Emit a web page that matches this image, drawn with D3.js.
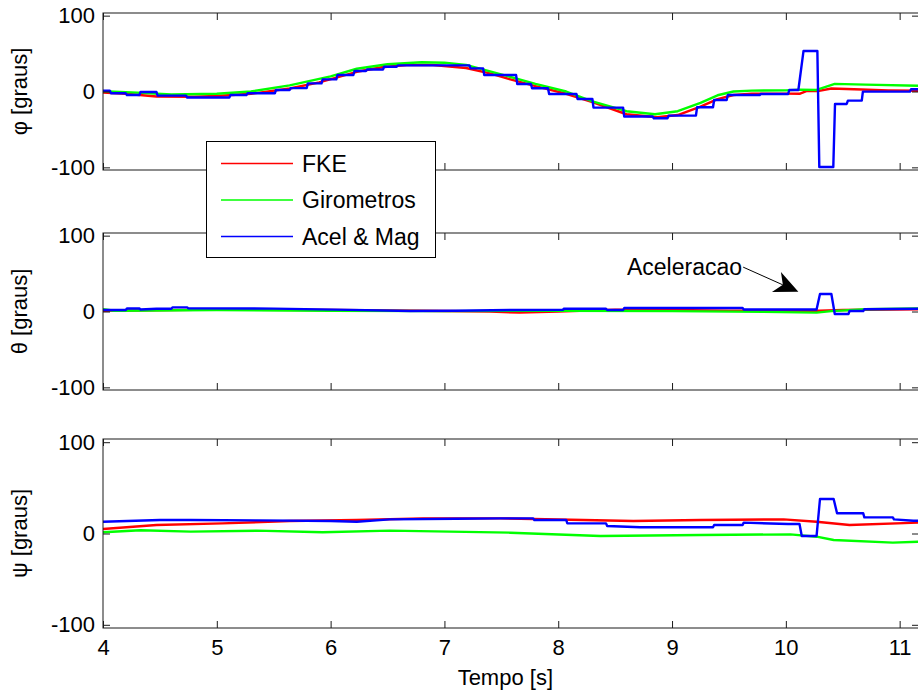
<!DOCTYPE html>
<html>
<head>
<meta charset="utf-8">
<script src="https://cdn.jsdelivr.net/npm/d3@7"></script>
<style>
  html, body { margin: 0; padding: 0; background: #fff; }
  svg { display: block; font-family: "Liberation Sans", Arial, Helvetica, sans-serif; }
</style>
</head>
<body>
<svg id="chart" width="918" height="696"></svg>
<script>
// ---------------- DATA ----------------
const xTicks = [4, 5, 6, 7, 8, 9, 10, 11];
const yTicks = [-100, 0, 100];
const seriesNames = ["FKE", "Girometros", "Acel & Mag"];
const seriesColors = ["#ff0000", "#00ff00", "#0000ff"];
const yLabels = ["\u03c6 [graus]", "\u03b8 [graus]", "\u03c8 [graus]"];
const xLabel = "Tempo [s]";
const annotationText = "Aceleracao";

// phi (roll) — FKE
const phiFkeT = [4.0, 4.2, 4.47, 4.8, 5.0, 5.3, 5.64, 5.9, 6.23, 6.45, 6.67, 6.9, 7.19, 7.4, 7.58, 7.8, 8.07, 8.3, 8.6, 8.87, 9.05, 9.25, 9.4, 9.54, 9.7, 10.0, 10.12, 10.18, 10.28, 10.4, 10.6, 10.9, 11.17];
const phiFke  = [-1.5, -3, -6.5, -7, -6, -3, 4, 12, 26, 32, 35, 35, 31, 24, 16, 7, -3, -14, -30, -34, -31, -20, -10, -4.6, -2.8, -2.8, -3, 0.6, 0.5, 4, 3, 1.5, 1];
// phi — Girometros
const phiGirT = [4.0, 4.3, 4.6, 5.0, 5.3, 5.64, 6.0, 6.23, 6.5, 6.8, 7.0, 7.19, 7.49, 7.8, 8.07, 8.3, 8.6, 8.85, 9.05, 9.25, 9.4, 9.54, 9.7, 10.0, 10.12, 10.27, 10.43, 10.7, 11.17];
const phiGir  = [0.5, -1.5, -4, -3, 0, 8, 20, 30, 36, 38.5, 38, 35, 23, 10, 0, -13, -26, -30, -26, -15, -5, 0, 1.2, 1.5, 2.5, 2, 10, 9, 7.5];
// phi — Acel & Mag (stepped)
const phiAcmT = [4.0, 4.06, 4.07, 4.2, 4.21, 4.32, 4.33, 4.47, 4.48, 4.73, 4.74, 5.11, 5.12, 5.26, 5.27, 5.51, 5.52, 5.64, 5.65, 5.79, 5.80, 5.92, 5.93, 6.05, 6.06, 6.20, 6.21, 6.31, 6.32, 6.46, 6.47, 6.58, 6.59, 7.22, 7.23, 7.34, 7.35, 7.63, 7.64, 7.76, 7.77, 7.91, 7.92, 8.16, 8.17, 8.30, 8.31, 8.57, 8.58, 8.83, 8.84, 8.96, 8.97, 9.21, 9.22, 9.36, 9.37, 9.48, 9.49, 9.77, 9.78, 10.02, 10.03, 10.11, 10.155, 10.277, 10.294, 10.417, 10.432, 10.535, 10.545, 10.667, 10.677, 11.09, 11.10, 11.17];
const phiAcm  = [1, 1, -2.4, -2.4, -4.6, -4.6, -0.7, -0.7, -5.5, -5.5, -8, -8, -4.6, -4.6, -2.4, -2.4, 2, 2, 4.5, 4.5, 10.7, 10.7, 16, 16, 21.7, 21.7, 27, 27, 29, 29, 32.6, 32.6, 34.4, 34.4, 30.5, 30.5, 21.7, 21.7, 9.9, 9.9, 4.2, 4.2, -3.3, -3.3, -9.9, -9.9, -21.3, -21.3, -33, -33, -35.3, -35.3, -31.8, -31.8, -20.8, -20.8, -11.2, -11.2, -4.6, -4.6, -3.3, -3.3, 2, 2, 53.3, 53.3, -99.5, -99.5, -16.4, -16.4, -12, -12, -0.2, -0.2, 3, 3];

// theta (pitch)
const thFkeT = [4.0, 5.0, 6.0, 6.8, 7.4, 7.66, 8.0, 8.5, 9.0, 9.5, 10.0, 10.3, 10.5, 11.17];
const thFke  = [1, 2.5, 2, 1, 0, -1.5, 0, 2.5, 2, 1, 1, 1, 2, 3];
const thGirT = [4.0, 4.1, 5.0, 6.0, 7.0, 8.0, 9.0, 9.8, 10.27, 10.4, 10.7, 11.17];
const thGir  = [3, 1, 2, 1, 0.5, 1, 0.5, -0.5, -1.5, 0.5, 3, 4];
const thAcmT = [4.0, 4.2, 4.21, 4.32, 4.33, 4.47, 4.6, 4.61, 4.74, 4.75, 5.5, 6.05, 6.7, 7.1, 7.58, 8.04, 8.05, 8.42, 8.43, 8.57, 8.58, 9.62, 9.63, 10.27, 10.30, 10.40, 10.43, 10.55, 10.56, 10.68, 10.69, 11.17];
const thAcm  = [2, 2, 4, 4, 2.6, 3.6, 3.6, 5.4, 5.4, 4.2, 3.8, 2.5, 0.7, 1, 2, 2.2, 3.7, 3.7, 2, 2, 4.6, 4.6, 2.6, 2.6, 23, 23, -3.3, -3.3, 0.7, 0.7, 2.9, 3.7];

// psi (yaw)
const psFkeT = [4.0, 4.47, 5.05, 5.64, 6.23, 6.81, 7.49, 8.66, 9.25, 9.98, 10.27, 10.56, 11.17];
const psFke  = [4.9, 9.3, 11.1, 13.7, 14.8, 16.6, 16.6, 13.7, 14.8, 15.5, 12.9, 9.3, 11.9];
const psGirT = [4.0, 4.33, 4.77, 5.35, 5.93, 6.52, 7.58, 8.37, 9.25, 10.04, 10.27, 10.42, 10.94, 11.17];
const psGir  = [1.3, 3.5, 2, 3.1, 1.3, 3.1, 0.9, -2.7, -1.6, -1, -3.5, -7.1, -10, -9];
const psAcmT = [4.0, 4.5, 4.77, 5.35, 6.0, 6.23, 6.52, 7.1, 7.49, 7.78, 7.79, 8.07, 8.08, 8.42, 8.43, 8.72, 9.36, 9.37, 9.62, 9.63, 10.02, 10.12, 10.14, 10.27, 10.30, 10.42, 10.45, 10.68, 10.69, 10.94, 10.95, 11.12, 11.17];
const psAcm  = [12.9, 14.8, 14.8, 14.4, 13.7, 12.9, 15.5, 16.2, 16.6, 16.6, 14.8, 14.8, 11.1, 11.1, 8.2, 6.8, 6.8, 9.3, 9.3, 11.9, 10.4, 10.4, -2.7, -2.7, 37.8, 37.8, 22.1, 22.1, 17.7, 17.7, 15.5, 14, 14];

const panelData = [
  [[phiFkeT, phiFke], [phiGirT, phiGir], [phiAcmT, phiAcm]],
  [[thFkeT, thFke], [thGirT, thGir], [thAcmT, thAcm]],
  [[psFkeT, psFke], [psGirT, psGir], [psAcmT, psAcm]]
];

// annotation anchor (data coords of middle panel)
const annTextPos = [9.615, 48];
const annArrowFrom = [9.625, 58.5];
const annArrowTo = [10.11, 26];

// ---------------- LAYOUT ----------------
const svg = d3.select("#chart");
const L = 103, R = 919;
const panels = [
  { top: 13, bottom: 170 },
  { top: 233, bottom: 390 },
  { top: 439, bottom: 628 }
];
const fontSize = 22;
const axisColor = "#1a1a1a";
const fmt = d => String(d); // plain hyphen-minus as in the original

const x = d3.scaleLinear().domain([4, 11.17]).range([L, R]);

const scalesY = [];
panels.forEach((p, i) => {
  const y = d3.scaleLinear().domain([-103.5, 103.5]).range([p.bottom, p.top]);
  scalesY.push(y);
  const g = svg.append("g");

  g.append("clipPath").attr("id", "clip" + i)
    .append("rect").attr("x", L).attr("y", p.top).attr("width", R - L).attr("height", p.bottom - p.top);

  // data lines
  const lines = g.append("g").attr("clip-path", `url(#clip${i})`);
  panelData[i].forEach((s, k) => {
    const pts = s[0].map((t, j) => [t, s[1][j]]);
    lines.append("path")
      .attr("d", d3.line().x(d => x(d[0])).y(d => y(d[1]))(pts))
      .attr("fill", "none")
      .attr("stroke", seriesColors[k])
      .attr("stroke-width", 2.4)
      .attr("stroke-linejoin", "round");
  });

  // axes
  const axB = g.append("g").attr("transform", `translate(0,${p.bottom})`)
    .call(d3.axisBottom(x).tickValues(xTicks).tickSize(-7).tickSizeOuter(0).tickPadding(11)
      .tickFormat(i === 2 ? fmt : () => ""));
  const axT = g.append("g").attr("transform", `translate(0,${p.top})`)
    .call(d3.axisTop(x).tickValues(xTicks).tickSize(-7).tickSizeOuter(0).tickFormat(() => ""));
  const axL = g.append("g").attr("transform", `translate(${L},0)`)
    .call(d3.axisLeft(y).tickValues(yTicks).tickSize(-7).tickSizeOuter(0).tickPadding(8).tickFormat(fmt));
  const axR = g.append("g").attr("transform", `translate(${R},0)`)
    .call(d3.axisRight(y).tickValues(yTicks).tickSize(-7).tickSizeOuter(0).tickFormat(() => ""));
  [axB, axT, axL, axR].forEach(a => {
    a.selectAll("path.domain").remove();
    a.selectAll("line").attr("stroke", axisColor);
    a.selectAll("text").attr("font-size", fontSize).attr("fill", "#000")
      .attr("font-family", "'Liberation Sans', Arial, Helvetica, sans-serif");
  });
  // box
  g.append("rect").attr("x", L).attr("y", p.top).attr("width", R - L).attr("height", p.bottom - p.top)
    .attr("fill", "none").attr("stroke", axisColor).attr("stroke-width", 1);

  // y label
  g.append("text")
    .attr("transform", `translate(27,${(p.top + p.bottom) / 2}) rotate(-90)`)
    .attr("text-anchor", "middle")
    .attr("font-size", fontSize)
    .text(yLabels[i]);
});

// x label
svg.append("text")
  .attr("x", x(7.5) + 4).attr("y", 685)
  .attr("text-anchor", "middle")
  .attr("font-size", fontSize)
  .text(xLabel);

// annotation (middle panel)
const yM = scalesY[1];
svg.append("text")
  .attr("x", x(annTextPos[0])).attr("y", yM(annTextPos[1]))
  .attr("text-anchor", "end")
  .attr("font-size", 23)
  .text(annotationText);
{
  const x0 = x(annArrowFrom[0]), y0 = yM(annArrowFrom[1]);
  const x1 = x(annArrowTo[0]), y1 = yM(annArrowTo[1]);
  const dx = x1 - x0, dy = y1 - y0, len = Math.hypot(dx, dy);
  const ux = dx / len, uy = dy / len, nx = -uy, ny = ux;
  const hl = 24, hw = 11, notch = 7;
  const bx = x1 - ux * hl, by = y1 - uy * hl;
  svg.append("line")
    .attr("x1", x0).attr("y1", y0)
    .attr("x2", x1 - ux * (hl - notch)).attr("y2", y1 - uy * (hl - notch))
    .attr("stroke", "#000").attr("stroke-width", 1);
  svg.append("path")
    .attr("d", `M${x1},${y1} L${bx + nx * hw},${by + ny * hw} L${x1 - ux * (hl - notch)},${y1 - uy * (hl - notch)} L${bx - nx * hw},${by - ny * hw} Z`)
    .attr("fill", "#000");
}

// legend
const lg = svg.append("g");
lg.append("rect").attr("x", 206.5).attr("y", 141.5).attr("width", 229).attr("height", 116)
  .attr("fill", "#fff").attr("stroke", "#000").attr("stroke-width", 1);
const legendY = [163.5, 200, 236.5];
seriesNames.forEach((n, k) => {
  lg.append("line").attr("x1", 221).attr("x2", 293).attr("y1", legendY[k]).attr("y2", legendY[k])
    .attr("stroke", seriesColors[k]).attr("stroke-width", 1.6);
  lg.append("text").attr("x", 302).attr("y", legendY[k]).attr("dy", "0.36em")
    .attr("font-size", 23).text(n);
});
</script>
</body>
</html>
